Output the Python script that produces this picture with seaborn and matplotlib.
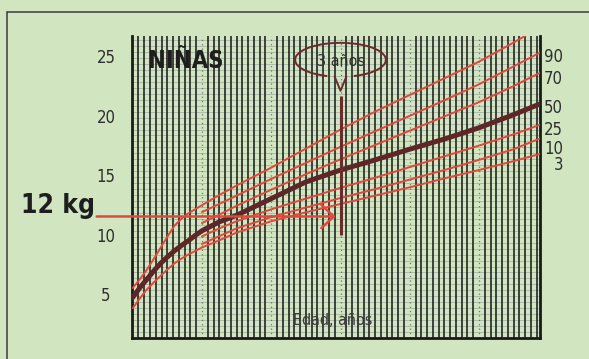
import numpy as np
import pandas as pd
import matplotlib as mpl
mpl.use("Agg")
import matplotlib.pyplot as plt
import seaborn as sns
from matplotlib.patches import Arc
from matplotlib.lines import Line2D

### DATA ###
# curves that start at birth (age in years, weight in kg)
ages_birth = [0, 0.1, 0.2, 0.3, 0.4, 0.5, 0.6, 0.7, 0.8, 0.9, 1.0, 1.25, 1.5, 2.0, 2.5, 3.0, 3.5, 4.0, 4.5, 5.0, 5.5, 5.88]
p97 = [5.7, 6.4, 7.2, 8.1, 9.05, 10.0, 10.9, 11.5, 11.95, 12.3, 12.65, 13.5, 14.3, 15.8, 17.4, 19.0, 20.5, 21.9, 23.3, 24.7, 26.3, 27.6]
p50 = [4.9, 5.7, 6.4, 7.1, 7.75, 8.3, 8.8, 9.25, 9.65, 10.1, 10.5, 11.25, 11.8, 13.2, 14.6, 15.6, 16.45, 17.35, 18.2, 19.15, 20.25, 21.15]
p3 = [4.0, 4.8, 5.55, 6.15, 6.7, 7.25, 7.75, 8.15, 8.5, 8.8, 9.1, 9.7, 10.35, 11.3, 12.05, 12.75, 13.45, 14.15, 14.9, 15.6, 16.35, 16.95]
# curves that start at one year
ages_late = [1.0, 1.25, 1.5, 2.0, 2.5, 3.0, 3.5, 4.0, 4.5, 5.0, 5.5, 5.88]
p90 = [12.07, 12.75, 13.45, 14.85, 16.2, 17.55, 18.85, 20.15, 21.45, 22.8, 24.3, 25.46]
p70 = [11.15, 11.85, 12.6, 13.95, 15.25, 16.5, 17.7, 18.9, 20.1, 21.3, 22.65, 23.77]
p25 = [10.03, 10.7, 11.3, 12.3, 13.2, 14.1, 14.95, 15.85, 16.75, 17.65, 18.6, 19.4]
p10 = [9.39, 10.05, 10.7, 11.65, 12.45, 13.25, 14.0, 14.8, 15.6, 16.45, 17.35, 18.25]

y_ticks = [5, 10, 15, 20, 25]
pct_labels = ["90", "70", "50", "25", "10", "3"]
pct_label_y = [57, 79.5, 108, 130, 149, 165.5]   # pixel rows of the right-hand labels
marker_age = 3.0
marker_weight = 11.7

### STYLE ###
BG = "#d1e5c0"
RED = "#e2473c"
BROWN = "#5e2627"
INK = "#2e2e2e"
W, H = 589, 359

sns.set_theme(style="white", rc={"axes.facecolor": BG, "figure.facecolor": BG})
plt.rcParams["font.family"] = ["DejaVu Sans"]
plt.rcParams["font.stretch"] = "condensed"

def px(x, y):
    # pixel position -> figure fraction
    return x / W, 1 - y / H

fig = plt.figure(figsize=(W / 100, H / 100), dpi=100)
l, b = px(132, 338)
r, t = px(540, 36)
ax = fig.add_axes([l, b, r - l, t - b])
ax.set_xlim(-0.01, 5.88)
ax.set_ylim(1.5, 26.85)

# outer frame of the card
fig.add_artist(Line2D([7 / W, 1.0], [1 - 12 / H] * 2, color="#3c3c3c", lw=1.1))
fig.add_artist(Line2D([7 / W] * 2, [0, 1 - 12 / H], color="#3c3c3c", lw=1.1))

# grid: light horizontal lines every 0.5 kg, black monthly lines, dotted year lines
for v in np.arange(2.0, 26.9, 0.5):
    ax.axhline(v, color="#a7b3a6", lw=0.6, zorder=1)
for k in range(1, 71):
    if k % 12 == 0:
        ax.axvline(k / 12, color="#6d7470", lw=0.9, ls=(0, (1, 2.5)), zorder=2)
    else:
        ax.axvline(k / 12, color="#161616", lw=1.1, zorder=2)

df_birth = pd.DataFrame({"age": ages_birth, "p97": p97, "p50": p50, "p3": p3})
df_late = pd.DataFrame({"age": ages_late, "p90": p90, "p70": p70, "p25": p25, "p10": p10})
for col in ["p97", "p3"]:
    sns.lineplot(data=df_birth, x="age", y=col, color=RED, lw=1.4, ax=ax, zorder=4)
for col in ["p90", "p70", "p25", "p10"]:
    sns.lineplot(data=df_late, x="age", y=col, color=RED, lw=1.4, ax=ax, zorder=4)
sns.lineplot(data=df_birth, x="age", y="p50", color=BROWN, lw=3.6, ax=ax, zorder=5)

# 3-year marker and 12 kg arrow
ax.plot([marker_age, marker_age], [10.15, 21.85], color="#6b2a2b", lw=2.2, zorder=6, solid_capstyle="butt")
ax.annotate("", xy=(2.93, marker_weight), xytext=(-0.52, marker_weight),
            arrowprops=dict(arrowstyle="->,head_length=0.75,head_width=0.7", color=RED, lw=1.8,
                            shrinkA=0, shrinkB=0), annotation_clip=False, zorder=7)

# callout "3 años"
ax.add_patch(Arc((marker_age, 24.85), 1.31, 2.85, theta1=-82, theta2=262, color="#6b2a2b", lw=1.4, zorder=6))
ax.plot([2.915, marker_age, 3.085], [23.45, 22.25, 23.45], color="#6b2a2b", lw=1.4, zorder=6)
ax.text(marker_age, 24.75, "3 años", ha="center", va="center", fontsize=11.5, color=INK, zorder=7)

ax.text(0.22, 24.75, "NIÑAS", ha="left", va="center", fontsize=17, fontweight="bold", color="#1e1e1e", zorder=7)
ax.text(2.32, 2.95, "Edad, años", ha="left", va="center", fontsize=11.5, color="#3a3a3a", zorder=7)

# y labels and percentile labels
trans = mpl.transforms.blended_transform_factory(ax.transAxes, ax.transData)
for v in y_ticks:
    ax.text(-0.064, v, str(v), transform=trans, ha="center", va="center", fontsize=12, color=INK)
for lab, yy in zip(pct_labels, pct_label_y):
    fig.text(*px(563, yy), lab, ha="right", va="center", fontsize=12, color=INK)
fig.text(*px(21, 206), "12 kg", ha="left", va="center", fontsize=19, fontweight="bold", color="#1e1e1e")

ax.set_xticks([])
ax.set_yticks([])
ax.set_xlabel("")
ax.set_ylabel("")
for side in ["left", "right", "bottom"]:
    ax.spines[side].set_color("#1a1a1a")
    ax.spines[side].set_linewidth(2.0)
ax.spines["top"].set_visible(False)

fig.savefig("out.png", dpi=100, facecolor=BG)
